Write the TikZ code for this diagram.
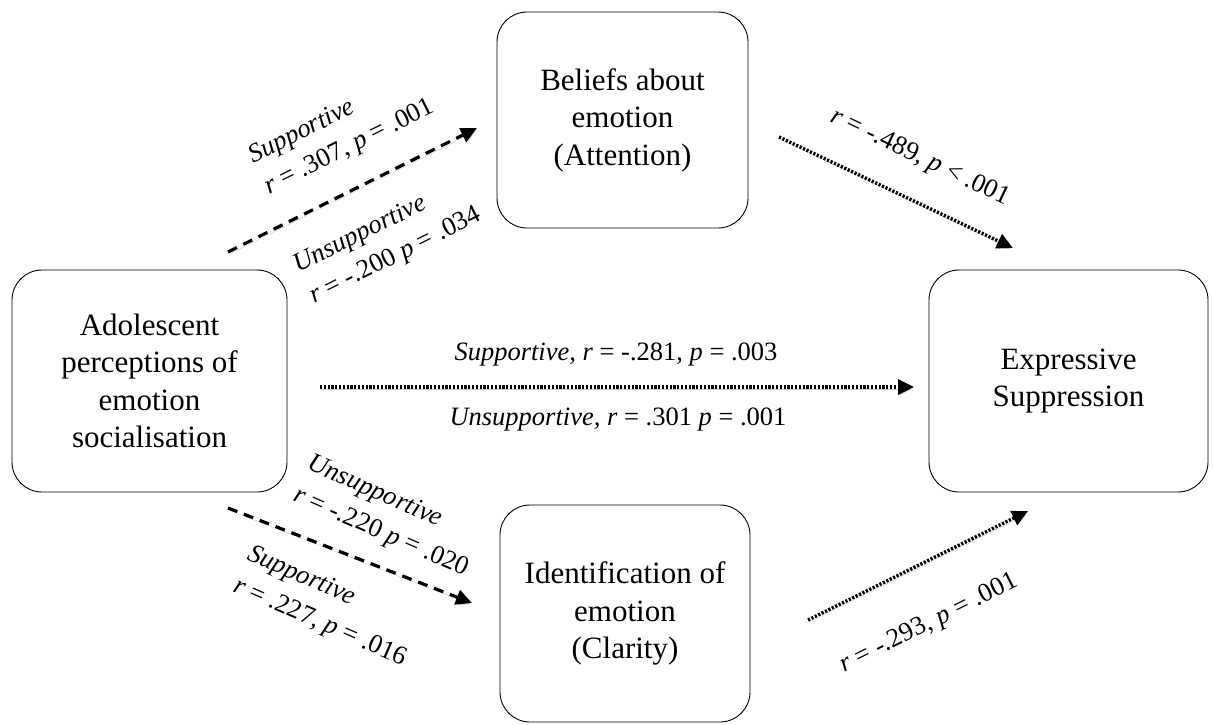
\documentclass[tikz,border=0pt]{standalone}
\usepackage{fontspec}
\setmainfont{Liberation Serif}
\usetikzlibrary{arrows.meta}

\tikzset{
  box/.style={draw, line width=0.9pt, rounded corners=30pt, align=center,
    font=\fontsize{31}{37.5}\selectfont, inner sep=0pt},
  lbl/.style={font=\fontsize{26.5}{35}\selectfont, align=left, inner sep=0pt},
  mlbl/.style={font=\fontsize{26.5}{30}\selectfont, inner sep=0pt},
  tip/.style={-{Triangle[length=16pt,width=15pt]}},
  shade/.style={preaction={draw=black!20, transform canvas={shift={(1.2pt,-2.2pt)}}}},
  dashlink/.style={tip, shade, line width=3.2pt, dash pattern=on 10pt off 7pt},
  dotlink/.style={tip, shade, line width=3.4pt, dash pattern=on 2.2pt off 1.6pt},
}

\begin{document}
\begin{tikzpicture}[x=1pt,y=-1pt]
\useasboundingbox (0,0) rectangle (1213,724);

% the four constructs
\node[box, minimum width=275pt, minimum height=222pt] (adol) at (149.5,381)
  {Adolescent\\perceptions of\\emotion\\socialisation};
\node[box, minimum width=251pt, minimum height=216pt] (belief) at (622.5,120)
  {Beliefs about\\emotion\\(Attention)};
\node[box, minimum width=250pt, minimum height=217pt] (ident) at (625,613.5)
  {Identification of\\emotion\\(Clarity)};
\node[box, minimum width=279pt, minimum height=222pt] (supp) at (1068.5,381)
  {Expressive\\Suppression};

% free ends of the paths
\coordinate (ab-s) at (228,252);  \coordinate (ab-e) at (477,128);
\coordinate (bs-s) at (779,137);  \coordinate (bs-e) at (1013,248);
\coordinate (as-s) at (320,387);  \coordinate (as-e) at (914,387);
\coordinate (ai-s) at (228,508);  \coordinate (ai-e) at (472,603);
\coordinate (is-s) at (808,620);  \coordinate (is-e) at (1028,511);

\draw[dashlink] (ab-s) -- (ab-e);
\draw[dotlink]  (bs-s) -- (bs-e);
\draw[dotlink]  (as-s) -- (as-e);
\draw[dashlink] (ai-s) -- (ai-e);
\draw[dotlink]  (is-s) -- (is-e);

% path coefficients
\node[lbl, rotate=26.5] (l-ab1) at (342,132)
  {\textit{Supportive}\\\textit{r} = .307, \textit{p} = .001};
\node[lbl, rotate=26.5] (l-ab2) at (388,241)
  {\textit{Unsupportive}\\\textit{r} = -.200 \textit{p} = .034};
\node[lbl, rotate=-25.5] (l-bs) at (920,158)
  {\textit{r} = -.489, \textit{p} < .001};
\node[mlbl] (l-as1) at (616,354)
  {\textit{Supportive, r} = -.281, \textit{p} = .003};
\node[mlbl] (l-as2) at (618,419)
  {\textit{Unsupportive, r} = .301 \textit{p} = .001};
\node[lbl, rotate=-23.5] (l-ai1) at (388,517)
  {\textit{Unsupportive}\\\textit{r} = -.220 \textit{p} = .020};
\node[lbl, rotate=-23.5] (l-ai2) at (327,607)
  {\textit{Supportive}\\\textit{r} = .227, \textit{p} = .016};
\node[lbl, rotate=26.5] (l-is) at (929,624)
  {\textit{r} = -.293, \textit{p} = .001};
\end{tikzpicture}
\end{document}
